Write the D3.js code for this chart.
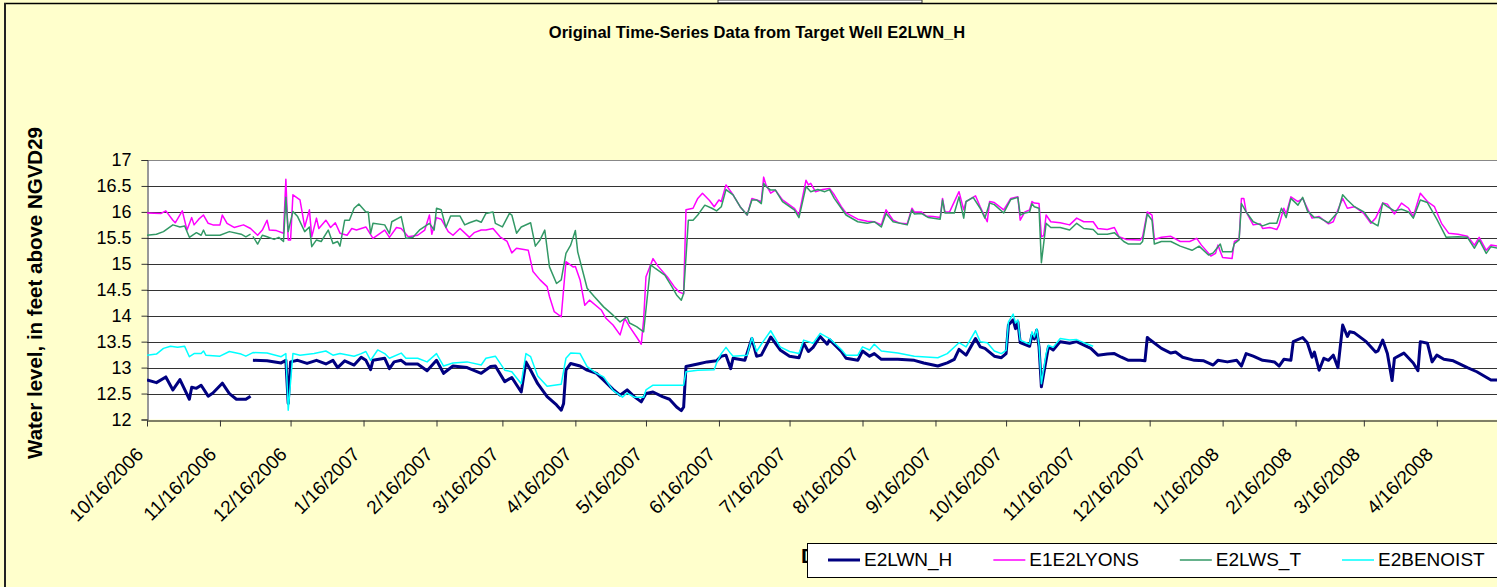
<!DOCTYPE html>
<html>
<head>
<meta charset="utf-8">
<script src="https://cdn.jsdelivr.net/npm/d3@7"></script>
<style>
  body { margin: 0; background: #ffffcc; overflow: hidden; }
  svg { display: block; font-family: "Liberation Sans", Arial, sans-serif; }
</style>
</head>
<body>
<svg id="chart" width="1497" height="587"></svg>
<script>
// readings taken off the chart: [days after 10/16/2006, water level]
const startDate = new Date(2006, 9, 16);
const endDate = new Date(2008, 4, 12);

const seriesNames = ["E2LWN_H", "E1E2LYONS", "E2LWS_T", "E2BENOIST"];
const seriesColors = ["#000080", "#ff00ff", "#339966", "#00ffff"];

const e2lwnH = [[0,12.76],[4,12.71],[8,12.82],[11,12.57],[14,12.77],[18,12.39],[19,12.62],[21,12.60],[23,12.66],[26,12.45],[28,12.51],[32,12.70],[35,12.50],[38,12.39],[42,12.39],[44,12.45],[44.5,null],
  [45,13.14],[51,13.13],[57,13.09],[59,13.14],[60,12.31],[61,13.11],[64,13.14],[68,13.08],[72,13.14],[76,13.07],[79,13.14],[81,13.00],[84,13.13],[88,13.05],[91,13.20],[93,13.14],[95,12.96],[96,13.14],[101,13.18],[103,12.98],[105,13.11],[108,13.14],[110,13.07],[115,13.07],[119,12.94],[123,13.14],[126,12.89],[130,13.03],[136,13.00],[142,12.89],[146,13.02],[148,13.03],
  [152,12.73],[155,12.81],[159,12.53],[161,13.11],[163,12.95],[166,12.69],[170,12.44],[174,12.28],[176,12.18],[177,12.31],[178,12.95],[180,13.08],[184,13.03],[187,12.95],[191,12.89],[194,12.76],[198,12.58],[201,12.47],[204,12.57],[207,12.44],[210,12.34],[212,12.50],[215,12.53],[219,12.44],[222,12.39],[225,12.24],[227,12.17],[228,12.24],
  [229,13.02],[234,13.07],[238,13.11],[242,13.13],[244,13.22],[246,13.24],[248,12.98],[249,13.18],[254,13.14],[257,13.56],[259,13.22],[261,13.24],[265,13.59],[269,13.34],[273,13.22],[277,13.19],[279,13.47],[281,13.31],[283,13.39],[286,13.60],[289,13.45],[290,13.54],[295,13.31],[297,13.18],[302,13.14],[304,13.32],[307,13.22],[309,13.27],[312,13.16],[319,13.16],[326,13.14],[330,13.09],[336,13.03],[340,13.09],[343,13.16],[345,13.35],[348,13.24],[352,13.56],[354,13.40],
  [356,13.37],[360,13.22],[363,13.19],[365,13.27],[366,13.82],[368,13.92],[369,13.75],[370,13.88],[371,13.48],[375,13.41],[376,13.63],[377,13.55],[378,13.72],[379,13.40],[380,12.63],[381,12.89],[383,13.40],[385,13.34],[388,13.50],[392,13.47],[395,13.50],[401,13.37],[404,13.24],[408,13.26],[411,13.27],[414,13.20],[417,13.14],[422,13.14],[424,13.13],[425,13.58],[426,13.54],[431,13.37],[435,13.28],[437,13.30],[440,13.20],[445,13.14],[449,13.13],[453,13.05],[455,13.14],[459,13.11],[463,13.14],[465,13.03],[467,13.27],[470,13.22],[474,13.14],[479,13.11],[481,13.03],[483,13.16],[486,13.14],[487,13.50],[491,13.58],[493,13.48],[495,13.20],[496,13.30],[498,12.95],[500,13.18],[502,13.14],[504,13.24],[506,13.00],
  [508,13.82],[510,13.60],[511,13.69],[513,13.67],[518,13.50],[522,13.30],[523,13.32],[525,13.53],[527,13.27],[529,12.75],[530,13.18],[534,13.28],[538,13.09],[540,12.94],[541,13.50],[544,13.47],[546,13.11],[548,13.24],[551,13.16],[555,13.13],[561,13.00],[565,12.92],[571,12.76],[574,12.76]];

const e1e2Lyons = [[0,15.98],[6,15.97],[8,16.02],[11,15.84],[12,15.79],[15,16.02],[17,15.65],[19,15.89],[20,15.75],[22,15.86],[24,15.94],[26,15.78],[28,15.75],[31,15.75],[32,15.94],[34,15.78],[37,15.70],[41,15.75],[44,15.68],[47,15.55],[49,15.65],[51,15.84],[52,15.65],[55,15.64],[58,15.59],[59,16.63],[60,15.46],[61,15.46],[62,16.33],[65,16.23],[67,15.71],[69,16.04],[70,15.52],[72,15.88],[73,15.68],[76,15.84],[78,15.70],[80,15.79],[82,15.59],[85,15.55],[87,15.68],[89,15.65],[93,15.71],[96,15.49],[101,15.65],[103,15.51],[106,15.70],[108,15.68],[111,15.52],[115,15.55],[118,15.65],[120,15.94],[121,15.57],[123,15.89],[125,15.86],[128,15.62],[130,15.55],[133,15.68],[137,15.51],[139,15.60],[142,15.65],
  [144,15.65],[147,15.68],[150,15.52],[153,15.43],[155,15.21],[157,15.30],[162,15.26],[164,14.85],[167,14.69],[170,14.56],[171,14.37],[173,14.08],[176,13.98],[178,15.04],[181,14.94],[182,14.95],[184,14.69],[186,14.20],[188,14.30],[193,14.11],[195,13.95],[198,13.82],[201,13.63],[203,13.95],[205,13.79],[208,13.59],[210,13.45],[211,13.92],[212,14.75],[215,15.10],[217,14.96],[221,14.75],[224,14.56],[226,14.46],[228,14.42],
  [229,16.04],[232,16.07],[234,16.26],[236,16.36],[239,16.22],[241,16.10],[243,16.23],[244,16.20],[246,16.52],[249,16.33],[252,16.10],[255,15.94],[257,16.26],[259,16.23],[261,16.20],[262,16.67],[263,16.52],[265,16.36],[267,16.42],[270,16.23],[275,16.07],[277,15.94],[280,16.61],[281,16.52],[282,16.55],[284,16.39],[287,16.43],[290,16.45],[292,16.33],[295,16.10],[297,15.98],[302,15.86],[306,15.82],[309,15.81],[312,15.75],[314,16.04],[317,15.84],[320,15.78],[323,15.77],[325,16.07],[326,16.00],[329,16.00],[331,15.92],[334,15.91],[337,15.89],[338,16.26],[339,16.00],[341,16.00],[345,16.39],[347,16.04],[348,16.20],[352,16.31],[354,16.10],[357,15.81],[358,16.20],[360,16.18],
  [364,16.04],[367,16.26],[370,16.29],[371,15.84],[373,16.00],[375,16.04],[376,16.20],[377,16.17],[379,16.16],[380,15.52],[381,15.55],[382,15.94],[384,15.81],[388,15.79],[392,15.75],[395,15.88],[398,15.81],[402,15.81],[404,15.68],[408,15.66],[411,15.70],[413,15.52],[416,15.47],[422,15.46],[423,15.52],[425,16.00],[427,15.94],[428,15.47],[431,15.51],[435,15.53],[439,15.43],[443,15.43],[446,15.49],[448,15.36],[452,15.15],[454,15.20],[455,15.36],[457,15.12],[461,15.10],[462,15.43],[464,15.47],
  [465,16.26],[466,16.26],[467,16.00],[470,15.75],[473,15.77],[474,15.68],[477,15.70],[480,15.66],[481,15.75],[483,16.07],[484,15.96],[486,16.29],[489,16.20],[491,16.26],[493,16.07],[495,15.88],[498,15.91],[502,15.77],[504,15.81],[506,16.04],[508,16.26],[510,16.07],[513,16.10],[517,15.97],[520,15.78],[522,15.88],[525,16.17],[527,16.15],[530,15.96],[533,16.17],[536,16.07],[538,15.91],[541,16.36],[544,16.20],[547,16.10],[550,15.78],[553,15.59],[557,15.57],[561,15.53],[564,15.36],[566,15.51],[569,15.26],[571,15.36],[574,15.34]];

const e2lwsT = [[0,15.55],[4,15.57],[7,15.62],[11,15.75],[14,15.71],[16,15.73],[18,15.51],[21,15.60],[23,15.55],[24,15.65],[25,15.55],[31,15.55],[35,15.62],[40,15.57],[42,15.52],[44,15.57],[44.5,null],
  [45,15.53],[47,15.38],[49,15.55],[51,15.52],[54,15.47],[56,15.51],[58,15.43],[59,16.28],[60,15.62],[62,16.01],[64,15.91],[67,15.62],[69,15.71],[70,15.33],[72,15.46],[74,15.43],[77,15.65],[79,15.39],[81,15.43],[82,15.34],[84,15.84],[86,15.84],[88,16.07],[90,16.15],[93,16.00],[94,16.00],[95,15.58],[96,15.78],[101,15.75],[103,15.58],[104,15.81],[108,15.91],[110,15.49],[113,15.51],[116,15.66],[120,15.78],[122,15.65],[123,16.07],[125,16.04],[127,15.70],[129,15.92],[133,15.92],[135,15.75],[137,15.79],[140,15.84],[142,15.80],
  [144,15.97],[147,16.00],[148,15.78],[151,15.71],[154,15.97],[155,15.94],[157,15.59],[159,15.71],[163,15.79],[165,15.34],[167,15.46],[169,15.65],[171,14.94],[174,14.62],[176,14.69],[178,15.20],[180,15.36],[182,15.64],[183,15.23],[187,14.53],[190,14.37],[194,14.17],[198,14.01],[201,13.88],[204,13.98],[205,13.86],[208,13.79],[211,13.69],[214,14.98],[216,14.91],[220,14.78],[223,14.56],[225,14.40],[227,14.30],[228,14.43],
  [230,15.84],[232,15.84],[234,15.94],[237,16.13],[240,16.07],[242,16.02],[244,16.10],[246,16.43],[249,16.33],[252,16.10],[255,15.94],[257,16.23],[259,16.23],[261,16.16],[262,16.55],[263,16.49],[265,16.42],[267,16.42],[270,16.20],[275,16.04],[277,15.89],[280,16.49],[282,16.39],[285,16.43],[288,16.39],[290,16.43],[292,16.26],[295,16.07],[297,15.94],[302,15.81],[306,15.78],[309,15.81],[312,15.71],[314,15.97],[317,15.81],[323,15.75],[325,16.04],[326,15.96],[329,15.97],[332,15.89],[337,15.86],[338,16.23],[339,15.98],[343,15.98],[345,16.29],[347,15.88],[348,16.20],[351,16.28],[354,16.07],[356,15.88],[358,16.17],[360,16.14],
  [364,15.98],[367,16.24],[370,16.28],[371,15.94],[373,15.98],[375,16.00],[376,16.16],[377,16.10],[379,16.07],[380,15.02],[382,15.78],[384,15.70],[388,15.70],[392,15.65],[395,15.78],[398,15.68],[402,15.66],[404,15.57],[408,15.57],[411,15.60],[415,15.43],[417,15.38],[422,15.38],[423,15.43],[425,15.96],[427,15.84],[428,15.38],[431,15.43],[435,15.43],[439,15.34],[444,15.26],[447,15.34],[451,15.17],[453,15.21],[456,15.38],[457,15.23],[461,15.23],[462,15.39],[464,15.46],
  [465,16.16],[467,16.00],[470,15.81],[473,15.75],[474,15.73],[477,15.78],[480,15.78],[482,16.07],[484,15.89],[486,16.26],[489,16.13],[491,16.28],[493,16.02],[496,15.89],[498,15.89],[502,15.79],[506,16.00],[508,16.33],[510,16.23],[513,16.10],[517,16.00],[520,15.81],[523,15.73],[525,16.17],[527,16.10],[530,16.02],[533,16.05],[536,16.00],[538,15.88],[541,16.23],[544,16.18],[548,15.86],[552,15.51],[557,15.52],[561,15.51],[564,15.30],[566,15.46],[569,15.20],[571,15.33],[574,15.30]];

const e2Benoist = [[0,13.24],[4,13.26],[7,13.37],[10,13.41],[13,13.39],[16,13.41],[18,13.21],[20,13.27],[23,13.27],[24,13.32],[25,13.24],[31,13.22],[35,13.31],[40,13.26],[42,13.22],[45,13.29],[51,13.28],[57,13.21],[59,13.27],[60,12.18],[62,13.27],[65,13.24],[71,13.27],[76,13.32],[79,13.24],[82,13.27],[88,13.22],[91,13.27],[93,13.31],[95,13.14],[98,13.34],[101,13.27],[103,13.18],[108,13.28],[110,13.18],[115,13.18],[119,13.11],[123,13.27],[126,13.03],[130,13.09],[136,13.11],[142,13.05],
  [144,13.18],[148,13.22],[152,12.95],[155,12.92],[159,12.69],[161,13.27],[163,13.21],[166,12.84],[170,12.64],[176,12.68],[178,13.18],[180,13.28],[184,13.27],[187,13.02],[191,12.89],[194,12.82],[198,12.56],[202,12.43],[204,12.51],[207,12.43],[211,12.43],[212,12.57],[215,12.66],[219,12.66],[228,12.66],
  [229,12.92],[234,12.95],[241,12.96],[242,13.09],[244,13.27],[246,13.39],[248,13.27],[249,13.22],[255,13.24],[257,13.58],[259,13.31],[261,13.45],[265,13.71],[269,13.40],[273,13.31],[277,13.27],[279,13.53],[283,13.47],[286,13.66],[290,13.56],[295,13.35],[297,13.24],[302,13.24],[304,13.40],[307,13.34],[309,13.45],[312,13.32],[319,13.28],[326,13.22],[336,13.19],[340,13.27],[345,13.48],[348,13.40],[352,13.71],[354,13.50],
  [357,13.48],[360,13.32],[363,13.27],[365,13.33],[366,13.88],[368,14.03],[369,13.86],[370,13.92],[371,13.53],[375,13.45],[376,13.69],[377,13.59],[378,13.75],[379,13.43],[380,12.69],[382,13.27],[383,13.43],[385,13.39],[388,13.56],[392,13.53],[395,13.54],[398,13.48],[402,13.41]];

const seriesData = [e2lwnH, e1e2Lyons, e2lwsT, e2Benoist];

const yTicks = [12, 12.5, 13, 13.5, 14, 14.5, 15, 15.5, 16, 16.5, 17];
const xTickLabels = ["10/16/2006", "11/16/2006", "12/16/2006", "1/16/2007", "2/16/2007", "3/16/2007",
  "4/16/2007", "5/16/2007", "6/16/2007", "7/16/2007", "8/16/2007", "9/16/2007", "10/16/2007",
  "11/16/2007", "12/16/2007", "1/16/2008", "2/16/2008", "3/16/2008", "4/16/2008"];

const svg = d3.select("#chart");
const W = 1497, H = 587;
const plotLeft = 147, plotRight = 1497, plotTop = 160, plotBottom = 419.5;

const parseTick = d3.timeParse("%m/%d/%Y");
const xTickDates = xTickLabels.map(parseTick);

const x = d3.scaleTime().domain([startDate, endDate]).range([plotLeft, 1498]);
const y = d3.scaleLinear().domain([12, 17]).range([plotBottom, plotTop]);

//outer frame
svg.append("rect").attr("x", 0).attr("y", 0).attr("width", W).attr("height", H).attr("fill", "#ffffcc");
svg.append("rect").attr("x", 718).attr("y", 0).attr("width", 204).attr("height", 3).attr("fill", "#fff")
  .attr("stroke", "#333").attr("stroke-width", 1);
svg.append("line").attr("x1", 4).attr("x2", W).attr("y1", 3.5).attr("y2", 3.5)
  .attr("stroke", "#000").attr("stroke-width", 1.5);
svg.append("line").attr("x1", 5).attr("x2", 5).attr("y1", 3).attr("y2", H)
  .attr("stroke", "#222").attr("stroke-width", 2);

//title
svg.append("text")
  .attr("x", 757).attr("y", 38)
  .attr("text-anchor", "middle")
  .attr("font-size", "16.5px").attr("font-weight", "bold")
  .text("Original Time-Series Data from Target Well E2LWN_H");

//plot area
svg.append("rect")
  .attr("x", plotLeft).attr("y", plotTop)
  .attr("width", plotRight - plotLeft).attr("height", plotBottom - plotTop)
  .attr("fill", "#fff");

svg.append("clipPath").attr("id", "plotClip")
  .append("rect")
  .attr("x", plotLeft).attr("y", plotTop - 5)
  .attr("width", plotRight - plotLeft).attr("height", plotBottom - plotTop + 10);

//horizontal grid lines
svg.append("g")
  .selectAll("line")
  .data(yTicks.filter((v) => v > 12))
  .enter()
  .append("line")
  .attr("x1", plotLeft).attr("x2", plotRight)
  .attr("y1", (v) => Math.round(y(v)) + 0.5)
  .attr("y2", (v) => Math.round(y(v)) + 0.5)
  .attr("stroke", (v) => (v === 17 ? "#888" : "#333"))
  .attr("stroke-width", 1);

//axes
const yAxis = svg.append("g")
  .attr("transform", `translate(${plotLeft + 0.5},0)`)
  .call(d3.axisLeft(y).tickValues(yTicks).tickSize(6).tickPadding(10).tickFormat((v) => String(v)));
yAxis.select(".domain").attr("stroke", "#333");
yAxis.selectAll(".tick line").attr("stroke", "#333");
yAxis.selectAll("text").attr("font-size", "18px").attr("font-family", "Liberation Sans, Arial, sans-serif").attr("fill", "#000");

const xAxis = svg.append("g")
  .attr("transform", `translate(0,${Math.round(plotBottom) + 0.5})`)
  .call(d3.axisBottom(x).tickValues(xTickDates).tickSize(6).tickSizeOuter(0).tickFormat((d, i) => xTickLabels[i]));
xAxis.select(".domain").attr("stroke", "#000");
xAxis.selectAll(".tick line").attr("stroke", "#333");
xAxis.selectAll("text")
  .attr("font-size", "19px")
  .attr("font-family", "Liberation Sans, Arial, sans-serif")
  .attr("fill", "#000")
  .attr("x", 0).attr("y", 0).attr("dy", 0)
  .attr("text-anchor", "end")
  .attr("transform", "translate(-3,35) rotate(-45)");

//y axis title
svg.append("text")
  .attr("transform", "translate(42,293) rotate(-90)")
  .attr("text-anchor", "middle")
  .attr("font-size", "20.5px").attr("font-weight", "bold")
  .text("Water level, in feet above NGVD29");

//x axis title, mostly hidden under the legend
svg.append("text")
  .attr("x", 801).attr("y", 563)
  .attr("font-size", "21px").attr("font-weight", "bold")
  .text("Date");

//series lines
const line = d3.line()
  .defined((d) => d[1] !== null)
  .x((d) => x(d3.timeDay.offset(startDate, Math.floor(d[0]))))
  .y((d) => y(d[1]));

const lines = svg.append("g").attr("clip-path", "url(#plotClip)");
seriesData.forEach((data, i) => {
  lines.append("path")
    .datum(data)
    .attr("fill", "none")
    .attr("stroke", seriesColors[i])
    .attr("stroke-width", i === 0 ? 3 : 1.5)
    .attr("stroke-linejoin", "round")
    .attr("d", line);
});

//legend
const legend = svg.append("g");
legend.append("rect")
  .attr("x", 807.5).attr("y", 543.5)
  .attr("width", 720).attr("height", 34)
  .attr("fill", "#fff").attr("stroke", "#000").attr("stroke-width", 1);

let lx = 828;
seriesNames.forEach((name, i) => {
  legend.append("line")
    .attr("x1", lx).attr("x2", lx + 32)
    .attr("y1", 560).attr("y2", 560)
    .attr("stroke", seriesColors[i])
    .attr("stroke-width", i === 0 ? 3 : 1.5);
  const t = legend.append("text")
    .attr("x", lx + 36).attr("y", 566)
    .attr("font-size", "19px")
    .text(name);
  lx += 36 + t.node().getComputedTextLength() + 41;
});
</script>
</body>
</html>
